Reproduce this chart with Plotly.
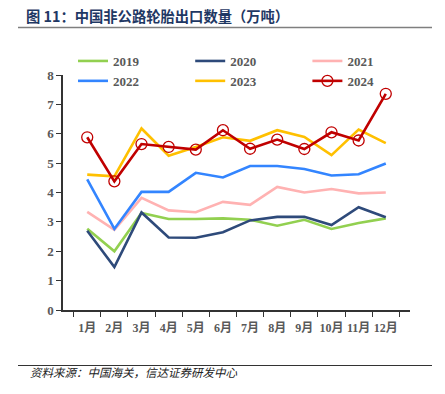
import plotly.graph_objects as go

months = ["1月", "2月", "3月", "4月", "5月", "6月", "7月", "8月", "9月", "10月", "11月", "12月"]
s2019 = [2.77, 2.00, 3.30, 3.10, 3.10, 3.12, 3.07, 2.87, 3.07, 2.76, 2.96, 3.12]
s2020 = [2.70, 1.46, 3.32, 2.47, 2.46, 2.65, 3.05, 3.17, 3.17, 2.89, 3.50, 3.16]
s2021 = [3.34, 2.73, 3.82, 3.39, 3.33, 3.68, 3.58, 4.19, 4.00, 4.12, 3.97, 4.00]
s2022 = [4.45, 2.76, 4.02, 4.02, 4.67, 4.51, 4.90, 4.90, 4.80, 4.58, 4.62, 4.99]
s2023 = [4.61, 4.55, 6.18, 5.25, 5.55, 5.88, 5.76, 6.12, 5.89, 5.27, 6.14, 5.68]
s2024 = [5.88, 4.38, 5.65, 5.55, 5.46, 6.12, 5.49, 5.80, 5.48, 6.05, 5.77, 7.36]
y_ticks = [0, 1, 2, 3, 4, 5, 6, 7, 8]

series = [
    ("2019", s2019, "#92D050"),
    ("2020", s2020, "#2E4A7A"),
    ("2021", s2021, "#FFB2B2"),
    ("2022", s2022, "#3385FF"),
    ("2023", s2023, "#FFC000"),
]

fig = go.Figure()
for name, vals, col in series:
    fig.add_trace(go.Scatter(x=months, y=vals, name=name, mode="lines",
                             line=dict(color=col, width=2.6)))
fig.add_trace(go.Scatter(x=months, y=s2024, name="2024", mode="lines+markers",
                         line=dict(color="#C00000", width=2.6),
                         marker=dict(symbol="circle-open", size=11, color="#C00000",
                                     line=dict(width=1.3, color="#C00000"))))

tickfont = dict(family="Liberation Serif, Noto Sans CJK SC", size=12, color="#595959", weight="bold")
legfont = dict(family="Liberation Serif", size=13, color="#595959", weight="bold")

fig.update_layout(
    width=445, height=394,
    margin=dict(l=63, r=35, t=75, b=84, autoexpand=False),
    paper_bgcolor="white", plot_bgcolor="white",
    showlegend=True,
    legend=dict(orientation="h", xref="container", yref="container",
                x=73 / 445, xanchor="left", y=1 - 46 / 394, yanchor="top",
                entrywidth=72.2, entrywidthmode="pixels", traceorder="normal",
                font=legfont, bgcolor="rgba(0,0,0,0)", itemwidth=30,
                tracegroupgap=0),
    xaxis=dict(type="category", tickson="boundaries", ticks="outside", ticklen=5,
               tickcolor="#333333", showline=True, linecolor="#333333", linewidth=1.5,
               showgrid=False, tickfont=tickfont, zeroline=False, tickangle=0,
               ticklabelstandoff=6),
    yaxis=dict(range=[0, 8], tickvals=y_ticks, ticks="outside", ticklen=5,
               tickcolor="#333333", showline=True, linecolor="#333333", linewidth=1.5,
               showgrid=False, tickfont=dict(tickfont, size=13), zeroline=False),
    annotations=[
        dict(text="图 11：中国非公路轮胎出口数量（万吨）", xref="paper", yref="paper",
             x=-39 / 347, y=1 + 59 / 235, xanchor="left", yanchor="middle", showarrow=False,
             font=dict(family="Noto Sans CJK SC", size=14.3, color="#1F3864", weight="bold")),
        dict(text="资料来源：中国海关，信达证券研发中心", xref="paper", yref="paper",
             x=-35 / 347, y=-62 / 235, xanchor="left", yanchor="middle", showarrow=False,
             font=dict(family="Noto Sans CJK SC", size=11.5, color="#222222", style="italic")),
    ],
    shapes=[
        dict(type="line", xref="paper", yref="paper", x0=-45 / 347, x1=369 / 347,
             y0=1 + 47.5 / 235, y1=1 + 47.5 / 235, line=dict(color="#7F7F7F", width=1.5)),
        dict(type="line", xref="paper", yref="paper", x0=-45 / 347, x1=369 / 347,
             y0=-55.5 / 235, y1=-55.5 / 235, line=dict(color="#333333", width=1.2)),
    ],
)

fig.write_html("out.html", config={"displayModeBar": False},
               post_script="document.body.style.margin='0';")
